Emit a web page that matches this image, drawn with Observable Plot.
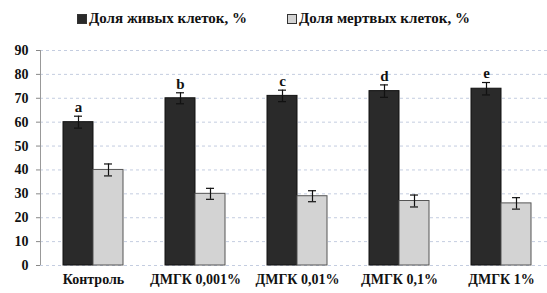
<!DOCTYPE html>
<html>
<head>
<meta charset="utf-8">
<script src="https://cdn.jsdelivr.net/npm/d3@7"></script>
<script src="https://cdn.jsdelivr.net/npm/@observablehq/plot@0.6"></script>
<style>
  html, body { margin: 0; padding: 0; background: #fff; }
  #legend { height: 40px; position: relative; font-family: "Liberation Serif", "DejaVu Serif", serif; font-weight: bold; font-size: 15px; color: #111; }
  .item { position: absolute; top: 10px; display: flex; align-items: center; white-space: nowrap; }
  .sw { width: 8px; height: 8px; border: 1px solid #333; margin-right: 2px; }
  #chart svg text { font-family: "Liberation Serif", "DejaVu Serif", serif; }
</style>
</head>
<body>
<div id="legend"></div>
<div id="chart"></div>
<script>
const categories = ["Контроль", "ДМГК 0,001%", "ДМГК 0,01%", "ДМГК 0,1%", "ДМГК 1%"];
const alive = [60, 70, 71, 73, 74];
const aliveErr = [2.5, 2.3, 2.4, 2.6, 2.6];
const dead = [40, 30, 29, 27, 26];
const deadErr = [2.5, 2.3, 2.3, 2.5, 2.4];
const letters = ["a", "b", "c", "d", "e"];
const seriesNames = ["Доля живых клеток, %", "Доля мертвых клеток, %"];
const yTicks = [0, 10, 20, 30, 40, 50, 60, 70, 80, 90];

const darkFill = "#2a2a2a";
const lightFill = "#d3d3d3";

const legend = document.getElementById("legend");
[[seriesNames[0], darkFill, 77], [seriesNames[1], lightFill, 287]].forEach(([name, color, left]) => {
  const it = document.createElement("div");
  it.className = "item";
  it.style.left = left + "px";
  const sw = document.createElement("div");
  sw.className = "sw";
  sw.style.background = color;
  it.appendChild(sw);
  const t = document.createElement("span");
  t.textContent = name;
  it.appendChild(t);
  legend.appendChild(it);
});

const data = categories.map((c, i) => ({
  cat: c, alive: alive[i], aliveErr: aliveErr[i], dead: dead[i], deadErr: deadErr[i], letter: letters[i]
}));

const font = "Liberation Serif, DejaVu Serif, serif";

const chart = Plot.plot({
  width: 547,
  height: 253,
  marginTop: 10,
  marginBottom: 28,
  marginLeft: 40,
  marginRight: 0,
  style: { fontFamily: font, fontSize: "14px", fontWeight: "bold", color: "#111", background: "#fff" },
  x: { domain: categories, range: [40, 554], paddingInner: 0.416, paddingOuter: 0.208, label: null },
  y: { domain: [0, 90], label: null },
  marks: [
    Plot.ruleY(yTicks, { stroke: "#c4cde0", strokeDasharray: "3,3", strokeWidth: 1 }),
    Plot.barY(data, { x: "cat", y: "alive", fill: darkFill, stroke: "#111", strokeWidth: 1, insetRight: 30 }),
    Plot.barY(data, { x: "cat", y: "dead", fill: lightFill, stroke: "#555", strokeWidth: 1, insetLeft: 30 }),
    Plot.ruleX(data, { x: "cat", y1: d => d.alive - d.aliveErr, y2: d => d.alive + d.aliveErr, dx: -15, stroke: "#111", strokeWidth: 1.2 }),
    Plot.ruleX(data, { x: "cat", y1: d => d.dead - d.deadErr, y2: d => d.dead + d.deadErr, dx: 15, stroke: "#111", strokeWidth: 1.2 }),
    Plot.tickY(data, { x: "cat", y: d => d.alive + d.aliveErr, insetLeft: 11, insetRight: 41, stroke: "#111", strokeWidth: 1.2 }),
    Plot.tickY(data, { x: "cat", y: d => d.alive - d.aliveErr, insetLeft: 11, insetRight: 41, stroke: "#111", strokeWidth: 1.2 }),
    Plot.tickY(data, { x: "cat", y: d => d.dead + d.deadErr, insetLeft: 41, insetRight: 11, stroke: "#111", strokeWidth: 1.2 }),
    Plot.tickY(data, { x: "cat", y: d => d.dead - d.deadErr, insetLeft: 41, insetRight: 11, stroke: "#111", strokeWidth: 1.2 }),
    Plot.text(data, { x: "cat", y: d => d.alive + d.aliveErr, text: "letter", dx: -15, dy: -9, fontSize: 15, fontWeight: "bold", fill: "#111" }),
    Plot.axisY({ ticks: yTicks, tickSize: 4, tickPadding: 8, fontSize: 14, fontWeight: "bold", stroke: "#888" }),
    Plot.axisX({ tickSize: 0, tickPadding: 9, fontSize: 14, fontWeight: "bold" })
  ]
});
// vertical y-axis line along the left edge of the plot area
const ys = chart.scale("y");
d3.select(chart).append("line")
  .attr("x1", 40.5).attr("x2", 40.5)
  .attr("y1", ys.apply(yTicks[yTicks.length - 1])).attr("y2", ys.apply(0))
  .attr("stroke", "#999").attr("stroke-width", 1);
document.getElementById("chart").appendChild(chart);
</script>
</body>
</html>
